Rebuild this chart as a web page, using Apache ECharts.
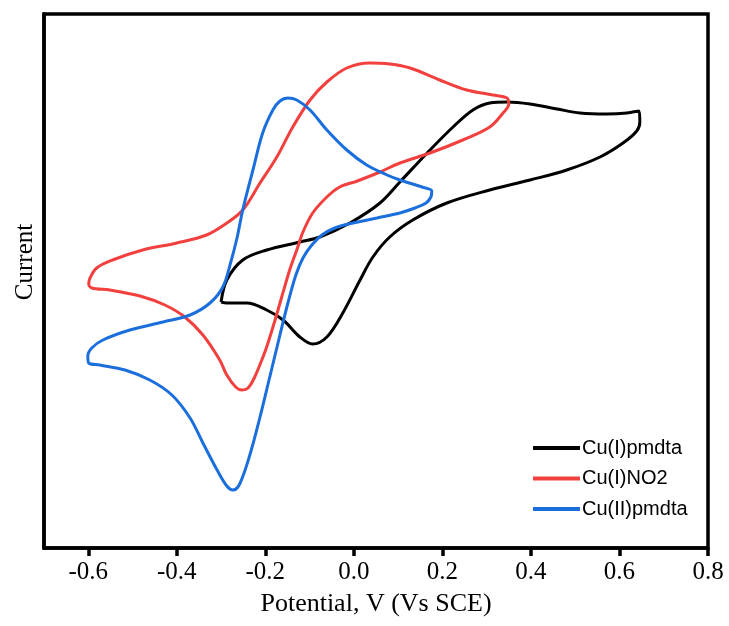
<!DOCTYPE html>
<html>
<head>
<meta charset="utf-8">
<script src="https://cdn.jsdelivr.net/npm/echarts@6/dist/echarts.min.js"></script>
<style>
  html, body { margin: 0; padding: 0; background: #fff; }
  #chart { width: 729px; height: 626px; }
</style>
</head>
<body>
<div id="chart"></div>
<script>
// potential (V vs SCE) and current (arb. units)
var potPmdta1 = [-0.300, -0.287, -0.251, -0.197, -0.122, -0.077, -0.009, 0.059, 0.104, 0.172,
  0.224, 0.269, 0.307, 0.346, 0.398, 0.459, 0.511, 0.572, 0.617, 0.644,
  0.646, 0.639, 0.608, 0.556, 0.481, 0.398, 0.307, 0.210, 0.133, 0.081,
  0.043, 0.014, -0.025, -0.061, -0.093, -0.122, -0.160, -0.197, -0.242, -0.287, -0.300];
var curPmdta1 = [24.6, 26.8, 28.8, 29.8, 30.6, 31.1, 32.5, 34.5, 36.6, 39.8,
  42.1, 43.8, 44.5, 44.6, 44.4, 43.9, 43.5, 43.4, 43.5, 43.7,
  42.6, 41.7, 40.5, 39.1, 37.8, 36.8, 35.8, 34.5, 32.8, 31.1,
  29.1, 26.8, 23.5, 21.1, 20.4, 21.1, 22.8, 23.8, 24.5, 24.5, 24.6];

var potNO2 = [0.002, -0.032, -0.061, -0.093, -0.115, -0.129, -0.145, -0.163, -0.178, -0.197,
  -0.208, -0.224, -0.239, -0.253, -0.267, -0.287, -0.303, -0.341, -0.382, -0.427,
  -0.483, -0.551, -0.592, -0.599, -0.596, -0.581, -0.545, -0.477, -0.400, -0.333,
  -0.287, -0.251, -0.212, -0.174, -0.138, -0.099, -0.061, -0.016, 0.036, 0.081,
  0.127, 0.194, 0.255, 0.314, 0.346, 0.350, 0.337, 0.307, 0.246, 0.172,
  0.104, 0.059, 0.002];
var curNO2 = [36.6, 36.1, 35.1, 33.5, 31.6, 29.8, 27.8, 25.1, 22.8, 20.1,
  18.8, 17.1, 16.0, 15.8, 16.1, 17.3, 18.8, 21.3, 23.1, 24.3,
  25.2, 25.8, 26.0, 26.4, 27.0, 28.0, 28.8, 29.8, 30.5, 31.3,
  32.5, 33.8, 36.5, 39.1, 42.1, 44.8, 46.6, 48.0, 48.5, 48.4,
  48.0, 46.8, 45.8, 45.3, 45.0, 44.4, 43.5, 42.1, 40.8, 39.5,
  38.5, 37.6, 36.6];

var potPmdta2 = [-0.002, 0.052, 0.104, 0.138, 0.163, 0.174, 0.176, 0.154, 0.104, 0.075,
  0.029, -0.016, -0.061, -0.099, -0.129, -0.149, -0.167, -0.183, -0.206, -0.228,
  -0.251, -0.264, -0.278, -0.296, -0.325, -0.370, -0.431, -0.506, -0.567, -0.592,
  -0.601, -0.599, -0.574, -0.517, -0.461, -0.411, -0.370, -0.341, -0.309, -0.287,
  -0.273, -0.258, -0.235, -0.212, -0.190, -0.167, -0.149, -0.131, -0.115, -0.095,
  -0.072, -0.043, -0.002];
var curPmdta2 = [32.5, 33.0, 33.5, 34.0, 34.5, 35.1, 35.7, 36.1, 36.8, 37.3,
  38.3, 39.8, 41.8, 43.8, 44.8, 45.0, 44.7, 43.8, 41.5, 37.8,
  33.8, 31.0, 28.6, 26.1, 24.5, 23.3, 22.6, 21.8, 20.8, 20.0,
  19.2, 18.5, 18.3, 17.8, 16.8, 15.3, 13.0, 10.5, 7.8, 6.2,
  5.8, 6.4, 9.3, 13.1, 17.1, 21.3, 24.5, 27.3, 29.0, 30.3,
  31.3, 32.0, 32.5];

var names = ['Cu(I)pmdta', 'Cu(I)NO2', 'Cu(II)pmdta'];
var colors = ['#000000', '#f2403f', '#1b6fdd'];
var tickValues = [-0.6, -0.4, -0.2, 0.0, 0.2, 0.4, 0.6, 0.8];

function zip(xs, ys) {
  return xs.map(function (x, i) { return [x, ys[i]]; });
}

var curves = [
  zip(potPmdta1, curPmdta1),
  zip(potNO2, curNO2),
  zip(potPmdta2, curPmdta2)
];

var chart = echarts.init(document.getElementById('chart'));

chart.setOption({
  animation: false,
  backgroundColor: '#fff',
  grid: {
    left: 44, right: 21, top: 14, bottom: 78,
    show: true, borderColor: '#000', borderWidth: 3.5
  },
  legend: {
    orient: 'vertical',
    left: 528, top: 433,
    itemWidth: 47, itemHeight: 14, itemGap: 10.5,
    icon: 'path://M0,6 L47,6 L47,10 L0,10 Z',
    textStyle: { fontFamily: 'Liberation Sans', fontSize: 20, color: '#000', padding: [0, 0, 0, -3] },
    data: names
  },
  xAxis: {
    type: 'value',
    min: -0.7, max: 0.8,
    name: 'Potential, V (Vs SCE)',
    nameLocation: 'middle',
    nameGap: 43,
    nameTextStyle: { fontFamily: 'Liberation Serif', fontSize: 26, color: '#000' },
    axisLine: { onZero: false, lineStyle: { color: '#000', width: 3.5 } },
    axisTick: { show: true, inside: false, length: 8, lineStyle: { color: '#000', width: 3.5 }, customValues: tickValues },
    axisLabel: {
      customValues: tickValues,
      margin: 12,
      fontFamily: 'Liberation Serif', fontSize: 25, color: '#000',
      formatter: function (v) { return v.toFixed(1); }
    },
    splitLine: { show: false }
  },
  yAxis: {
    type: 'value',
    min: 0, max: 53.4,
    name: 'Current',
    nameLocation: 'middle',
    nameGap: 6,
    nameTextStyle: { fontFamily: 'Liberation Serif', fontSize: 25, color: '#000', padding: [0, 0, 0, 38] },
    axisLine: { onZero: false, lineStyle: { color: '#000', width: 3.5 } },
    axisTick: { show: false },
    axisLabel: { show: false },
    splitLine: { show: false }
  },
  series: names.map(function (n, i) {
    return {
      name: n,
      type: 'line',
      data: curves[i],
      smooth: 0.35,
      showSymbol: false,
      symbol: 'none',
      color: colors[i],
      lineStyle: { color: colors[i], width: 3 }
    };
  })
});
</script>
</body>
</html>
